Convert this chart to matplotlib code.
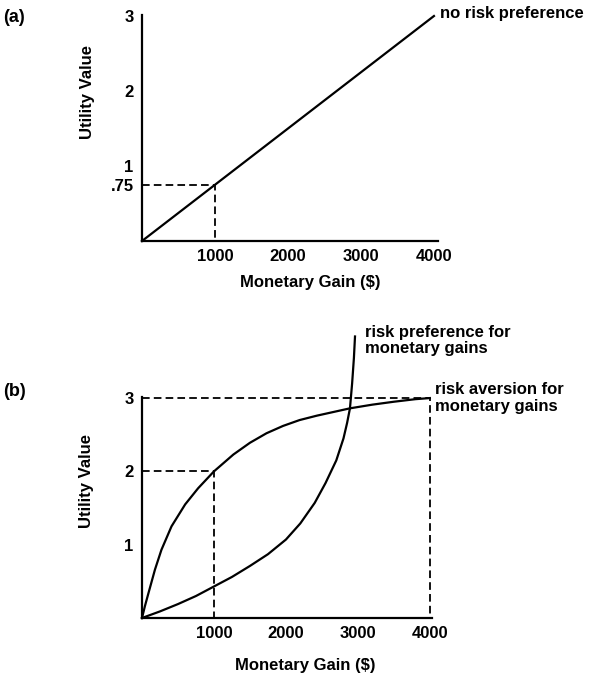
import matplotlib
matplotlib.use("Agg")
import matplotlib.pyplot as plt

plt.rcParams['font.family'] = ['Liberation Sans', 'DejaVu Sans']
plt.rcParams['font.weight'] = 'bold'
plt.rcParams['lines.scale_dashes'] = False

# panel (a): no risk preference
gain_a = [0, 4000]
util_a = [0, 3.0]
ref_a = (1000, 0.75)

# panel (b)
gain_aversion = [0, 40, 90, 180, 270, 410, 600, 780, 1000, 1270, 1500, 1730, 1960, 2190,
                 2430, 2660, 2890, 3200, 3500, 3800, 4000]
util_aversion = [0, 0.16, 0.34, 0.66, 0.93, 1.25, 1.55, 1.77, 2.0, 2.23, 2.39, 2.52, 2.62, 2.70,
                 2.76, 2.81, 2.86, 2.91, 2.95, 2.985, 3.0]

gain_pref = [0, 250, 500, 750, 1000, 1250, 1500, 1750, 2000, 2200, 2400, 2550, 2700, 2800,
             2850, 2890, 2920, 2945, 2960]
util_pref = [0, 0.09, 0.19, 0.30, 0.43, 0.56, 0.71, 0.87, 1.07, 1.29, 1.57, 1.84, 2.15, 2.45,
             2.66, 2.86, 3.20, 3.55, 3.84]

ref_b1 = (1000, 2)
ref_b2 = (4000, 3)

xticks = [1000, 2000, 3000, 4000]
yticks_a = [0.75, 1, 2, 3]
ytick_labels_a = ['.75', '1', '2', '3']
yticks_b = [1, 2, 3]

FS = 12
dash = (0, (5.5, 3))

fig = plt.figure(figsize=(5.92, 6.77), dpi=100)


def style_axes(ax):
    for s in ['top', 'right']:
        ax.spines[s].set_visible(False)
    for s in ['left', 'bottom']:
        ax.spines[s].set_linewidth(1.6)
    ax.tick_params(length=0, labelsize=FS, pad=6)
    for lab in ax.get_xticklabels() + ax.get_yticklabels():
        lab.set_fontweight('bold')


def ref_lines(ax, pt):
    x, y = pt
    ax.plot([0, x, x], [y, y, 0], color='black', lw=1.3, linestyle=dash, clip_on=False)


# ---- (a)
ax1 = fig.add_axes([142 / 592, 0.644, 295.6 / 592, 226.5 / 677])
ax1.plot(gain_a, util_a, color='black', lw=1.6, clip_on=False)
ref_lines(ax1, ref_a)
ax1.set_xlim(0, 4050)
ax1.set_ylim(0, 3.02)
ax1.set_xticks(xticks)
ax1.set_yticks(yticks_a)
ax1.set_yticklabels(ytick_labels_a)
style_axes(ax1)
ax1.set_xlabel('Monetary Gain ($)', fontsize=FS, fontweight='bold')
ax1.xaxis.set_label_coords(0.568, -0.185)
ax1.xaxis.label.set_va('center')
ax1.set_ylabel('Utility Value', fontsize=FS, fontweight='bold')
ax1.yaxis.set_label_coords(-0.186, 0.658)
ax1.yaxis.label.set_va('center')
ax1.text(4080, 3.04, 'no risk preference', fontsize=FS, fontweight='bold',
         ha='left', va='center', clip_on=False)

# ---- (b)
ax2 = fig.add_axes([142 / 592, 59 / 677, 290 / 592, 221.4 / 677])
ax2.plot(gain_aversion, util_aversion, color='black', lw=1.6, clip_on=False,
         solid_joinstyle='round')
ax2.plot(gain_pref, util_pref, color='black', lw=1.6, clip_on=False,
         solid_joinstyle='round')
ref_lines(ax2, ref_b1)
ref_lines(ax2, ref_b2)
ax2.set_xlim(0, 4030)
ax2.set_ylim(0, 3.02)
ax2.set_xticks(xticks)
ax2.set_yticks(yticks_b)
style_axes(ax2)
ax2.set_xlabel('Monetary Gain ($)', fontsize=FS, fontweight='bold')
ax2.xaxis.set_label_coords(0.564, -0.213)
ax2.xaxis.label.set_va('center')
ax2.set_ylabel('Utility Value', fontsize=FS, fontweight='bold')
ax2.yaxis.set_label_coords(-0.19, 0.62)
ax2.yaxis.label.set_va('center')
ax2.text(3097, 3.78, 'risk preference for\nmonetary gains', fontsize=FS, fontweight='bold',
         ha='left', va='center', linespacing=1.08, clip_on=False)
ax2.text(4069, 3.0, 'risk aversion for\nmonetary gains', fontsize=FS, fontweight='bold',
         ha='left', va='center', linespacing=1.2, clip_on=False)

fig.text(3 / 592, 1 - 17 / 677, '(a)', fontsize=13, fontweight='bold', ha='left', va='center')
fig.text(3 / 592, 1 - 392 / 677, '(b)', fontsize=13, fontweight='bold', ha='left', va='center')

fig.savefig('out.png', dpi=100)
